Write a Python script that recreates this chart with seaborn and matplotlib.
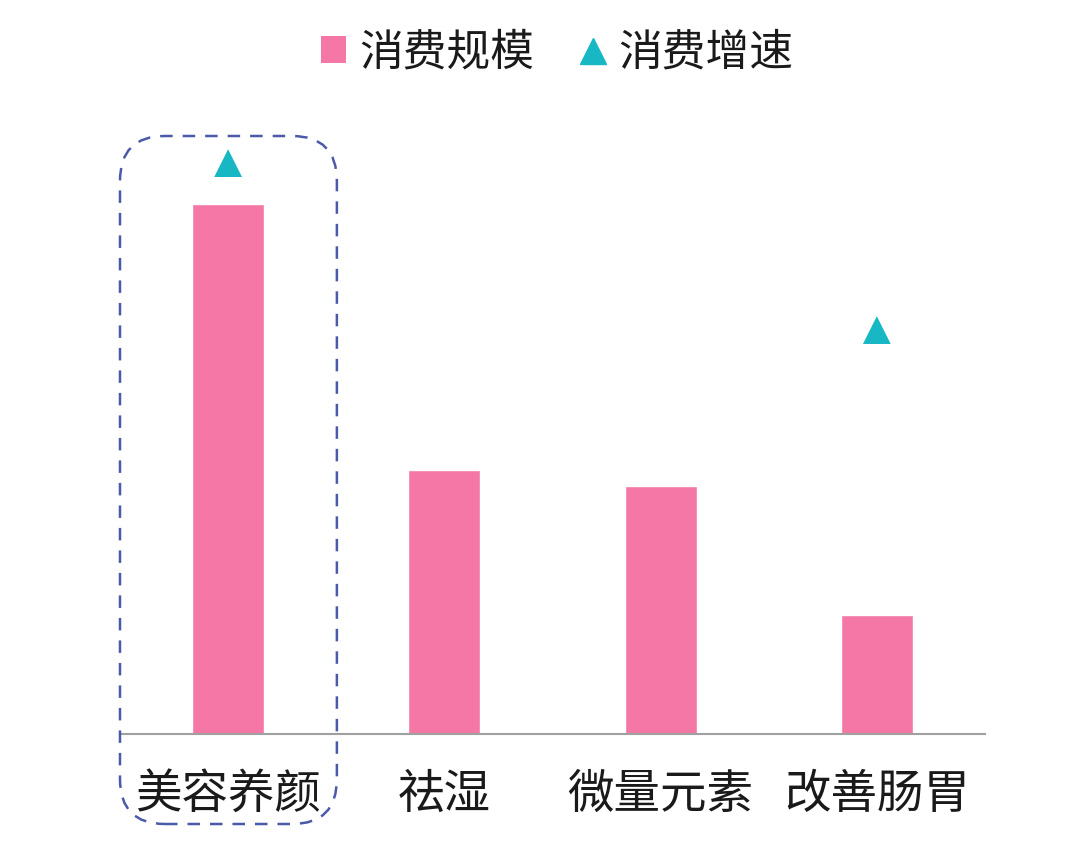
import matplotlib
matplotlib.use("Agg")
import matplotlib.pyplot as plt
import seaborn as sns
import pandas as pd
import numpy as np
from matplotlib.patches import FancyBboxPatch
from matplotlib.lines import Line2D
from matplotlib.patches import Patch

categories = ["美容养颜", "祛湿", "微量元素", "改善肠胃"]
scale_values = [100, 49.8, 46.8, 22.5]
growth_values = [107.7, np.nan, np.nan, 76.2]
legend_labels = ["消费规模", "消费增速"]

PINK = "#F477A5"
TEAL = "#17B8C4"
NAVY = "#4A5AA8"

sns.set_theme(style="white")
plt.rcParams['font.family'] = ['Noto Sans CJK SC', 'DejaVu Sans']

fig = plt.figure(figsize=(10.8, 8.44), dpi=100)
ax = fig.add_axes([0.1111, 0.1303, 0.8009, 0.7537])

df = pd.DataFrame({"cat": categories, "scale": scale_values, "growth": growth_values})
sns.barplot(data=df, x="cat", y="scale", color=PINK, saturation=1, width=0.333, ax=ax)
sns.scatterplot(data=df.dropna(), x="cat", y="growth", marker="^", s=400, color=TEAL,
                edgecolor="none", ax=ax, zorder=3)

ax.set_xlim(-0.5, 3.5)
ax.set_ylim(0, 120)
ax.set_xlabel("")
ax.set_ylabel("")
ax.set_yticks([])
for s in ["top", "right", "left"]:
    ax.spines[s].set_visible(False)
ax.spines["bottom"].set_color("#A0A0A0")
ax.spines["bottom"].set_linewidth(1.5)
ax.tick_params(axis="x", length=0, pad=26, labelsize=33.5, labelcolor="#1a1a1a")

handles = [Patch(facecolor=PINK, edgecolor="none"),
           Line2D([0], [0], marker="^", linestyle="none", markersize=19, color=TEAL)]
fig.legend(handles, legend_labels, loc="center", bbox_to_anchor=(0.516, 0.938), ncol=2,
           frameon=False, fontsize=31.5, handlelength=0.58, handleheight=0.58,
           handletextpad=0.3, columnspacing=1.05, labelcolor="#1a1a1a")

fig.canvas.draw()
x0 = ax.transData.transform((-0.5, 0))[0]
x1 = ax.transData.transform((0.503, 0))[0]
y0 = 844 - 824
y1 = 844 - 136
box = FancyBboxPatch((x0, y0), x1 - x0, y1 - y0,
                     boxstyle="round,pad=0,rounding_size=45",
                     fill=False, edgecolor=NAVY, linewidth=1.8,
                     linestyle=(0, (5, 4)), transform=None, clip_on=False)
fig.patches.append(box)

fig.savefig("out.png", dpi=100, facecolor="white")
